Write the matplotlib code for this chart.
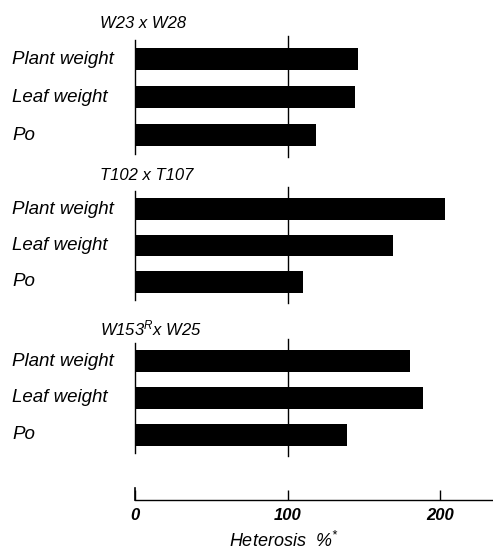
import numpy as np
import matplotlib
matplotlib.use('Agg')
import matplotlib.pyplot as plt
import matplotlib.transforms as mtransforms

plt.rcParams['font.family'] = ['Liberation Sans Narrow', 'Liberation Sans', 'DejaVu Sans']
plt.rcParams['font.style'] = 'italic'
plt.rcParams['mathtext.fontset'] = 'custom'
plt.rcParams['mathtext.it'] = 'Liberation Sans:italic'
plt.rcParams['mathtext.rm'] = 'Liberation Sans:italic'

# heterose (% sobre o pai medio) por cruzamento
crosses = ['W23 x W28', 'T102 x T107', r'W153$^{R}$x W25']
traits = ['Plant weight', 'Leaf weight', 'Po']
w23_w28 = [146, 144, 119]
t102_t107 = [203, 169, 110]
w153_w25 = [180, 189, 139]
valores = [w23_w28, t102_t107, w153_w25]
ticks = [0, 100, 200]

W, H = 493, 552
fig = plt.figure(figsize=(W / 100, H / 100), dpi=100)

x0 = 135          # pixel do zero
xmax = (W - x0) / 1.525
# (topo, base) de cada bloco em pixels
blocos = [(40, 154), (191, 300), (343, 453)]
titulos_y = [23, 175, 328]

for cruz, vals, (top, bot), ty in zip(crosses, valores, blocos, titulos_y):
    ax = fig.add_axes([x0 / W, 1 - bot / H, (W - x0) / W, (bot - top) / H])
    y = np.arange(len(traits))
    ax.barh(y, vals, height=0.6, color='black')
    ax.set_xlim(0, xmax)
    ax.set_ylim(len(traits) - 0.5, -0.5)
    for s in ['top', 'right', 'bottom']:
        ax.spines[s].set_visible(False)
    ax.spines['left'].set_linewidth(1.0)
    ax.set_xticks([])
    ax.set_yticks([])
    ax.axvline(100, ymin=-0.03, ymax=1.035, color='black', lw=1.0, clip_on=False)
    trans = mtransforms.blended_transform_factory(fig.transFigure, ax.transData)
    for yi, nome in zip(y, traits):
        ax.text(12 / W, yi, nome, transform=trans, fontsize=13.5, va='center', ha='left')
    fig.text(100 / W, 1 - ty / H, cruz, fontsize=12, va='center', ha='left')

# escala inferior
axs = fig.add_axes([x0 / W, 1 - 500 / H, (W - x0) / W, 12 / H])
axs.set_xlim(0, xmax)
axs.set_yticks([])
for s in ['top', 'right']:
    axs.spines[s].set_visible(False)
axs.spines['left'].set_linewidth(1.2)
axs.spines['bottom'].set_linewidth(1.0)
axs.patch.set_alpha(0)
axs.set_xticks(ticks)
axs.set_xticklabels([str(t) for t in ticks], fontsize=12, fontweight='bold')
axs.tick_params(axis='x', direction='in', length=7, width=1, pad=6)
axs.set_xlabel(r'Heterosis  %$^{*}$', fontsize=13)
axs.xaxis.set_label_coords(0.416, -2.55)

fig.savefig('out.png', dpi=100)
